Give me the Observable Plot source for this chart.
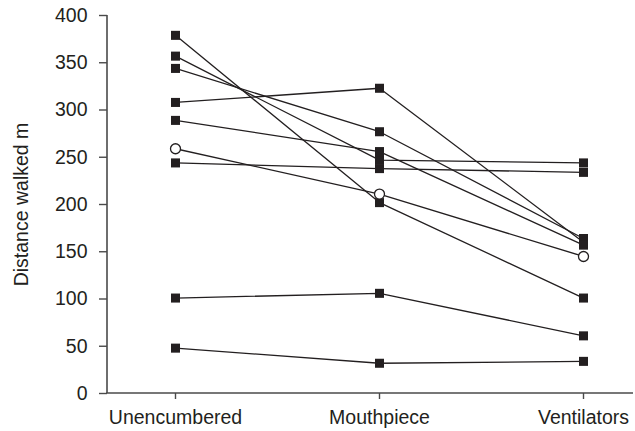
<!DOCTYPE html>
<html>
<head>
<meta charset="utf-8">
<script src="https://cdn.jsdelivr.net/npm/d3@7"></script>
<script src="https://cdn.jsdelivr.net/npm/@observablehq/plot@0.6"></script>
<style>
  html, body { margin: 0; padding: 0; background: #fff; }
  #chart svg { display: block; }
</style>
</head>
<body>
<div id="chart"></div>
<script>
// Conditions (x categories)
const conditions = ["Unencumbered", "Mouthpiece", "Ventilators"];
// Distance walked (m) for each subject, per condition
const unencumbered = [379, 357, 344, 308, 289, 259, 244, 101, 48];
const mouthpiece   = [202, 247, 277, 323, 256, 211, 238, 106, 32];
const ventilators  = [101, 244, 164, 160, 157, 145, 234, 61, 34];
// Marker type per subject
const markers = ["square", "square", "square", "square", "square", "circle", "square", "square", "square"];
// Y-axis ticks
const yTicks = [0, 50, 100, 150, 200, 250, 300, 350, 400];

const rows = [];
unencumbered.forEach((_, i) => {
  [unencumbered[i], mouthpiece[i], ventilators[i]].forEach((v, j) => {
    rows.push({subject: i, condition: conditions[j], distance: v, marker: markers[i]});
  });
});

const ink = "#231f20";
const axisInk = "#4a4a4a";
const font = "'Liberation Sans', Arial, Helvetica, sans-serif";

// axis lines drawn from the plot frame dimensions
function axisLines(index, scales, values, dim) {
  const g = d3.create("svg:g");
  const x0 = dim.marginLeft, x1 = dim.width - dim.marginRight;
  const y0 = dim.marginTop, y1 = dim.height - dim.marginBottom;
  g.append("line").attr("x1", x0).attr("x2", x0).attr("y1", y0).attr("y2", y1)
    .attr("stroke", axisInk).attr("stroke-width", 1.6);
  g.append("line").attr("x1", x0 - 0.8).attr("x2", x1).attr("y1", y1).attr("y2", y1)
    .attr("stroke", axisInk).attr("stroke-width", 1.6);
  return g.node();
}

const chart = Plot.plot({
  width: 635,
  height: 431,
  marginLeft: 107,
  marginRight: 2,
  marginTop: 15,
  marginBottom: 38,
  style: {fontFamily: font, fontSize: "19.5px", color: ink, background: "#fff"},
  x: {type: "point", domain: conditions, range: [174, 583], padding: 0},
  y: {domain: [0, 400]},
  marks: [
    Plot.axisY({ticks: yTicks, tickSize: 8, tickPadding: 12, stroke: axisInk, strokeWidth: 1.4,
      fill: ink, fontSize: 19.5, label: "Distance walked m", labelAnchor: "center", labelOffset: 93, labelArrow: "none"}),
    Plot.axisX({tickSize: 6, tickPadding: 11, stroke: axisInk, strokeWidth: 1.4, fill: ink, fontSize: 19.5, label: null}),
    axisLines,
    Plot.line(rows, {x: "condition", y: "distance", z: "subject", stroke: ink, strokeWidth: 1.3}),
    Plot.dot(rows.filter(d => d.marker === "square"),
      {x: "condition", y: "distance", symbol: "square", r: 5.1, fill: ink, stroke: "none"}),
    Plot.dot(rows.filter(d => d.marker === "circle"),
      {x: "condition", y: "distance", symbol: "circle", r: 5, fill: "#fff", stroke: ink, strokeWidth: 1.3})
  ]
});
document.getElementById("chart").appendChild(chart);
</script>
</body>
</html>
